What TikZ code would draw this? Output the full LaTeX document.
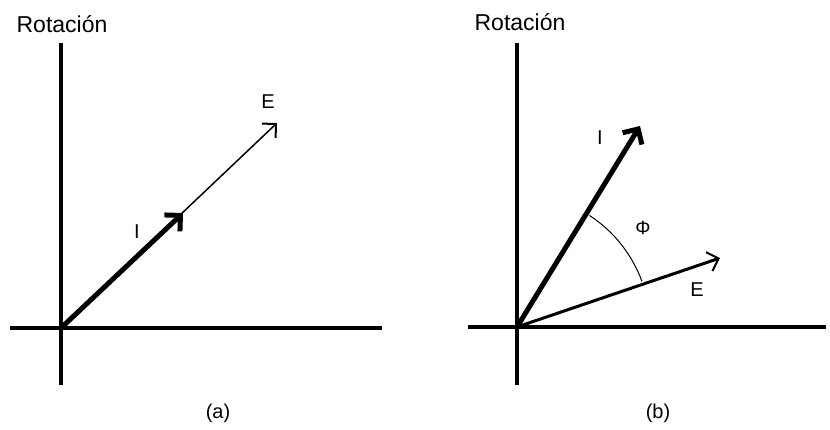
\documentclass[tikz,border=0pt]{standalone}
\usepackage{fontspec}
\setmainfont{Liberation Sans}
\usetikzlibrary{arrows.meta}
\tikzset{
    axisline/.style={line width=4pt},
    phasor/.style={-{Straight Barb[angle=90:14pt, line width=2pt]}, line width=1.5pt},
    thickphasor/.style={-{Straight Barb[angle=90:16pt]}, line width=5pt},
    lbl/.style={font=\fontsize{20}{22}\selectfont, inner sep=0pt}
}

\begin{document}
\begin{tikzpicture}[x=1pt,y=1pt]
    \useasboundingbox (0,0) rectangle (830,429);

    % (a)
    \coordinate (oa) at (61,101);
    \coordinate (ea) at (277,306);
    \coordinate (ia) at (183,216);
    \node[lbl, font=\fontsize{23}{26}\selectfont] (rota) at (62,405) {Rotación};
    \draw[axisline] (61,44) -- (61,386);
    \draw[axisline] (10,101) -- (382,101);
    \draw[phasor] (oa) -- (ea);
    \draw[thickphasor] (oa) -- (ia);
    \node[lbl] (labea) at (268,327) {E};
    \node[lbl] (labia) at (137,197) {I};
    \node[lbl] (capa) at (218,16) {(a)};

    % (b)
    \coordinate (ob) at (517,102);
    \coordinate (eb) at (720,171);
    \coordinate (ib) at (640,303);
    \node[lbl, font=\fontsize{23}{26}\selectfont] (rotb) at (520,407) {Rotación};
    \draw[axisline] (517,44) -- (517,386);
    \draw[axisline] (468,102) -- (826,102);
    \draw[phasor, line width=3pt] (ob) -- (eb);
    \draw[thickphasor] (ob) -- (ib);
    \draw[line width=1pt] (ob) ++(57:133) arc (57:20:133);
    \node[lbl, font=\fontsize{19}{21}\selectfont] (phib) at (643,201) {Φ};
    \node[lbl] (labeb) at (697,139) {E};
    \node[lbl] (labib) at (600,291) {I};
    \node[lbl] (capb) at (658,16) {(b)};
\end{tikzpicture}
\end{document}
